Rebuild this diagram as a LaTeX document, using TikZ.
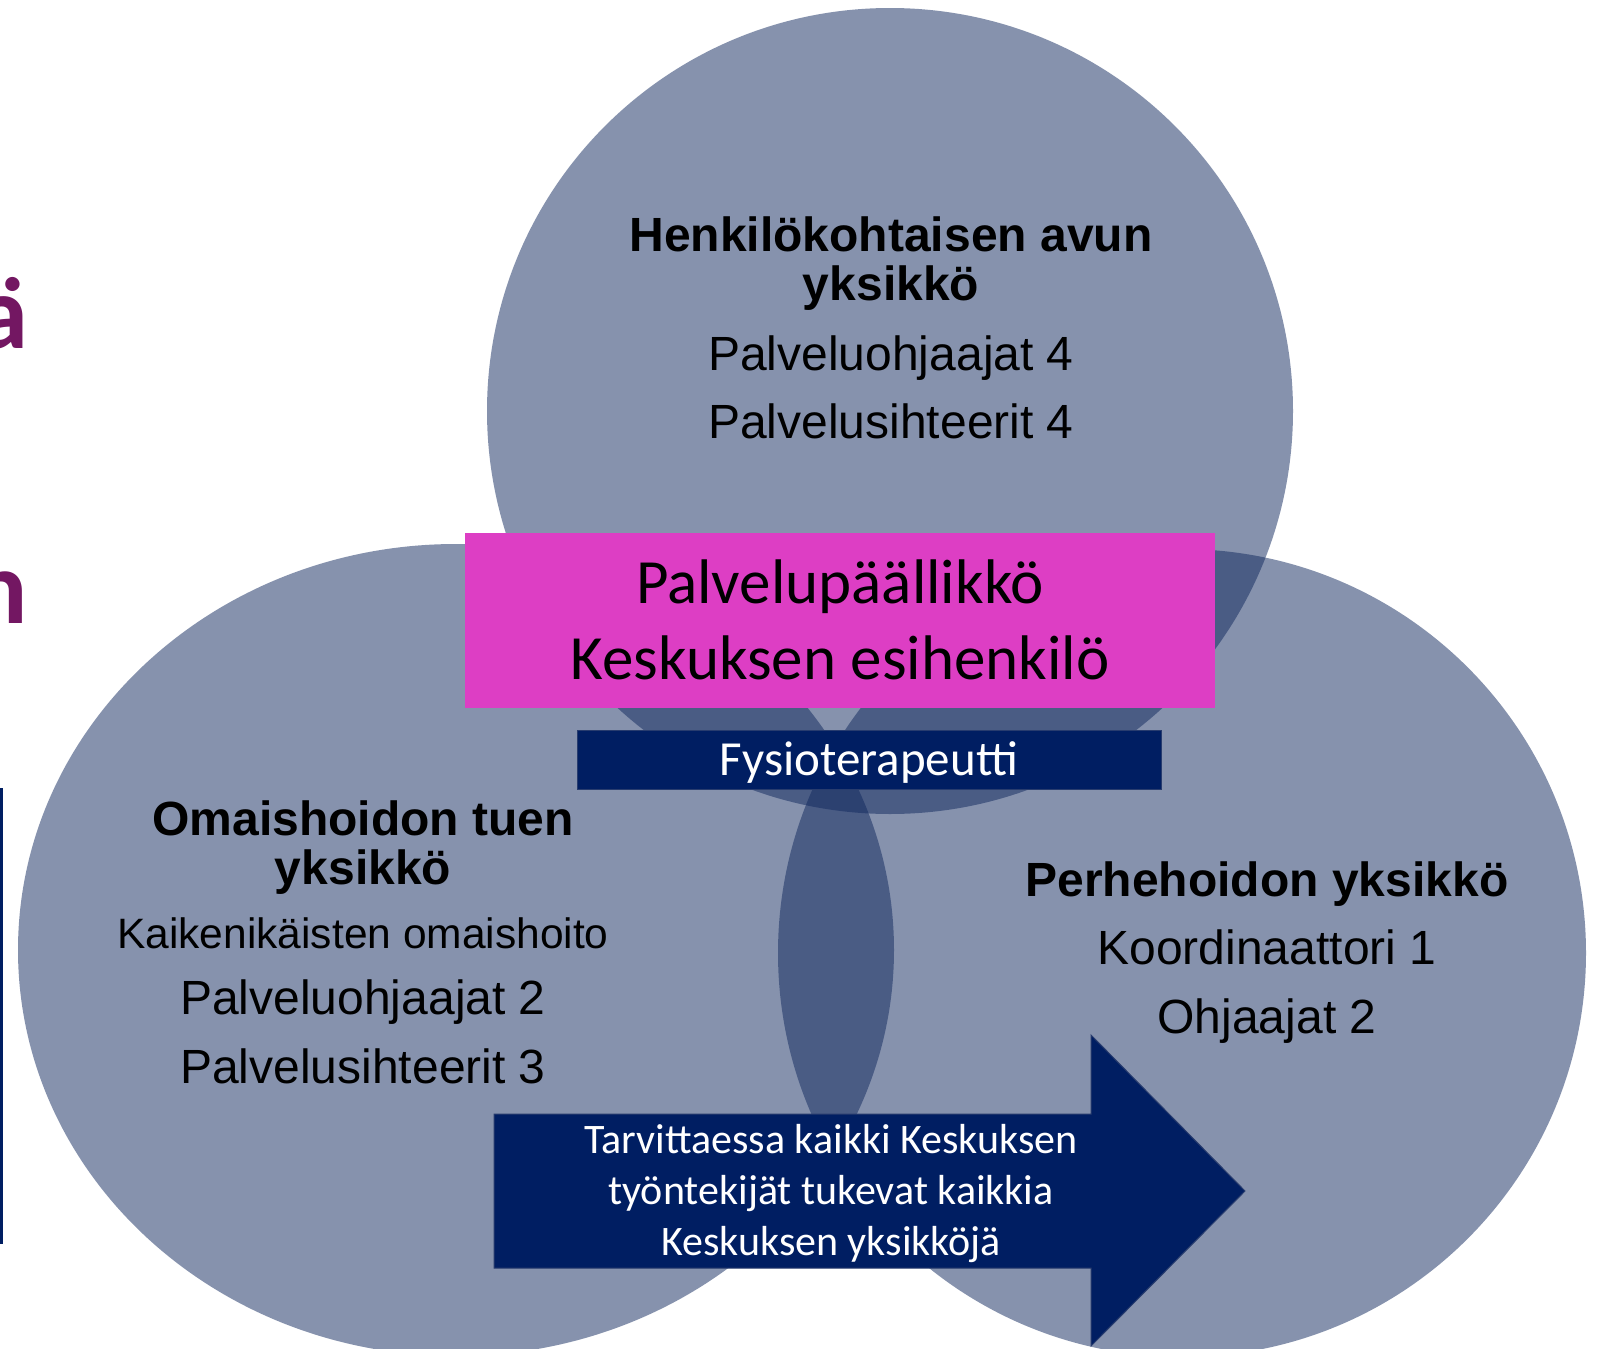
\documentclass[tikz,border=0pt]{standalone}
\usepackage{fontspec}
\setmainfont{Liberation Sans}
\newfontfamily\calib{Carlito}
\definecolor{unitblue}{RGB}{15,39,93}
\definecolor{bosspink}{RGB}{221,62,196}
\definecolor{navyblue}{RGB}{0,30,98}
\definecolor{navyedge}{RGB}{40,60,110}
\definecolor{titlepurple}{RGB}{115,23,98}
\begin{document}
\begin{tikzpicture}[x=1pt,y=-1pt,
  unitshape/.style={fill=unitblue, fill opacity=0.5},
  headtxt/.style={font=\fontsize{48}{56}\selectfont\bfseries, anchor=base, inner sep=0},
  bodytxt/.style={font=\fontsize{48}{56}\selectfont, anchor=base, inner sep=0},
  smalltxt/.style={font=\fontsize{42.5}{50}\selectfont, anchor=base, inner sep=0},
  bosstxt/.style={font=\calib\fontsize{63}{70}\selectfont, anchor=base, inner sep=0},
  fysiotxt/.style={font=\calib\fontsize{49}{56}\selectfont, text=white, anchor=base, inner sep=0},
  arrowtxt/.style={font=\calib\fontsize{42}{50}\selectfont, text=white, anchor=base, inner sep=0},
  titletxt/.style={font=\calib\bfseries\fontsize{105}{110}\selectfont, text=titlepurple, anchor=base east, inner sep=0}]
\useasboundingbox (0,0) rectangle (1599,1349);
\fill[white] (0,0) rectangle (1599,1349);
\clip (0,0) rectangle (1599,1349);

% cut-off title letters at the left edge
\node[titletxt] (ttla) at (29,348) {ä};
\node[titletxt] (ttln) at (28,623) {n};

% left vertical rule
\coordinate (ruletop) at (1.5,788);
\coordinate (rulebot) at (1.5,1244);
\draw[navyblue, line width=3pt] (ruletop) -- (rulebot);

% three overlapping units
\fill[unitshape] (890,411) circle[radius=403pt];
\fill[unitshape] (456,950) ellipse[x radius=438pt, y radius=406pt];
\fill[unitshape] (1182,953) circle[radius=404pt];

% top unit
\node[headtxt] (topa) at (891,251) {Henkilökohtaisen avun};
\node[headtxt] (topb) at (891,300) {yksikkö};
\node[bodytxt] (topc) at (891,370) {Palveluohjaajat 4};
\node[bodytxt] (topd) at (891,438) {Palvelusihteerit 4};

% left unit
\node[headtxt] (lefta) at (363,835) {Omaishoidon tuen};
\node[headtxt] (leftb) at (363,884) {yksikkö};
\node[smalltxt] (leftc) at (363,948) {Kaikenikäisten omaishoito};
\node[bodytxt] (leftd) at (363,1014) {Palveluohjaajat 2};
\node[bodytxt] (lefte) at (363,1083) {Palvelusihteerit 3};

% right unit
\node[headtxt] (righta) at (1267,896) {Perhehoidon yksikkö};
\node[bodytxt] (rightb) at (1267,964) {Koordinaattori 1};
\node[bodytxt] (rightc) at (1267,1033) {Ohjaajat 2};

% manager box
\fill[bosspink] (465,533) rectangle (1215,708);
\node[bosstxt] (bossa) at (840,603) {Palvelupäällikkö};
\node[bosstxt] (bossb) at (840,679) {Keskuksen esihenkilö};

% physiotherapist box
\filldraw[fill=navyblue, draw=navyedge, line width=1pt] (577,730) rectangle (1161,789);
\node[fysiotxt] (fysio) at (869,775) {Fysioterapeutti};

% arrow
\filldraw[fill=navyblue, draw=navyedge, line width=1pt]
  (494,1114) -- (1091,1114) -- (1091,1035) -- (1245,1191) -- (1091,1346)
  -- (1091,1268) -- (494,1268) -- cycle;
\node[arrowtxt] (arra) at (831,1153) {Tarvittaessa kaikki Keskuksen};
\node[arrowtxt] (arrb) at (831,1204) {työntekijät tukevat kaikkia};
\node[arrowtxt] (arrc) at (831,1255) {Keskuksen yksikköjä};
\end{tikzpicture}
\end{document}
